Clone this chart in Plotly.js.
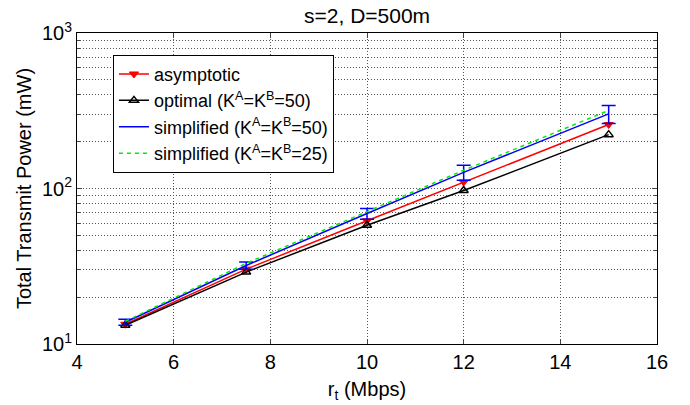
<!DOCTYPE html>
<html><head><meta charset="utf-8">
<script src="https://cdn.plot.ly/plotly-3.0.1.min.js"></script>
<style>html,body{margin:0;padding:0;background:#fff}#c{width:690px;height:405px}</style>
</head><body><div id="c"></div>
<script>
const rates = [5, 7.5, 10, 12, 15];
const asymptotic = [13.4, 30.3, 62, 110, 258];
const optimal50 = [13.2, 29, 58, 97, 222];
const simplified50 = [13.8, 32, 69, 127, 302];
const simplified50Err = [0.6, 1.7, 5.5, 14, 40];
const simplified25 = [14.0, 33, 71, 131, 318];
const names = ['asymptotic', 'optimal (K<sup>A</sup>=K<sup>B</sup>=50)', 'simplified (K<sup>A</sup>=K<sup>B</sup>=50)', 'simplified (K<sup>A</sup>=K<sup>B</sup>=25)'];
const xTicks = [4, 6, 8, 10, 12, 14, 16];
const yTicks = [10, 100, 1000];
const yTickText = ['10<sup>1</sup>', '10<sup>2</sup>', '10<sup>3</sup>'];

const font = 'Liberation Sans, Arial, sans-serif';
const grid = '#555';
const traces = [
  {x: rates, y: asymptotic, name: names[0], mode: 'lines+markers',
   line: {color: '#ff0000', width: 1.5}, marker: {symbol: 'triangle-down', size: 8, color: '#ff0000', line:{color:'#ff0000', width:1}}},
  {x: rates, y: optimal50, name: names[1], mode: 'lines+markers',
   line: {color: '#000000', width: 1.5}, marker: {symbol: 'triangle-up-open', size: 8, color: '#000000', line:{width:1.5}}},
  {x: rates, y: simplified50, name: names[2], mode: 'lines',
   line: {color: '#0000ff', width: 1.5},
   error_y: {type: 'data', array: simplified50Err, visible: true, color: '#0000ff', thickness: 1.5, width: 7}},
  {x: rates, y: simplified25, name: names[3], mode: 'lines',
   line: {color: '#00ee00', width: 1.5, dash: '4px,4px'}}
];
const layout = {
  width: 690, height: 405,
  margin: {l: 77, r: 33, t: 33, b: 61},
  paper_bgcolor: '#fff', plot_bgcolor: '#fff',
  font: {family: font, size: 18, color: '#000'},
  title: {text: 's=2, D=500m', x: 0.532, xanchor: 'center', y: 0.962, yanchor: 'middle', font: {size: 21}},
  xaxis: {range: [4, 16], tickvals: xTicks, ticks: 'inside', ticklen: 5, mirror: 'ticks',
    showline: true, linecolor: '#000', linewidth: 1, zeroline: false,
    showgrid: true, gridcolor: grid, griddash: '1px,2px', gridwidth: 1,
    tickfont: {size: 20},
    title: {text: 'r<sub>t</sub> (Mbps)', font: {size: 20}, standoff: 9}},
  yaxis: {type: 'log', range: [1, 3], tickvals: yTicks, ticktext: yTickText, ticks: 'inside', ticklen: 5, mirror: 'ticks',
    showline: true, linecolor: '#000', linewidth: 1, zeroline: false,
    showgrid: true, gridcolor: grid, griddash: '1px,2px', gridwidth: 1,
    minor: {dtick: 'D1', showgrid: true, gridcolor: grid, griddash: '1px,2px', gridwidth: 1, ticks: 'inside', ticklen: 3},
    tickfont: {size: 20},
    title: {text: 'Total Transmit Power (mW)', font: {size: 20}, standoff: 4}},
  legend: {x: 0.062, y: 0.93, xanchor: 'left', yanchor: 'top', bgcolor: '#fff',
    bordercolor: '#000', borderwidth: 1, font: {size: 18}, tracegroupgap: 0, itemwidth: 30},
  showlegend: true
};
Plotly.newPlot('c', traces, layout, {displayModeBar: false, staticPlot: true});
</script></body></html>
